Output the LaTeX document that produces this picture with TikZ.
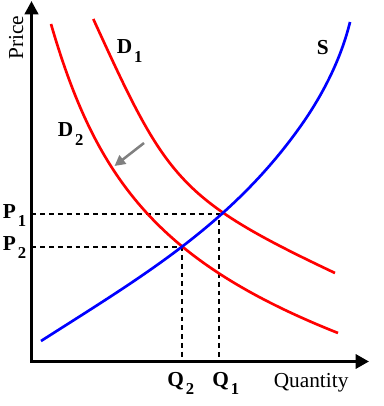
\documentclass[tikz,border=0pt]{standalone}
\usepackage{fontspec}
\setmainfont{Liberation Serif}
\usetikzlibrary{arrows.meta}
\definecolor{supblue}{RGB}{0,0,255}
\definecolor{demred}{RGB}{255,0,0}
\definecolor{shiftgray}{RGB}{128,128,128}
\tikzset{
  axisline/.style={line width=2.4pt, line join=miter, {Triangle[length=10pt,width=10pt]}-{Triangle[length=10pt,width=10.5pt]}},
  demand/.style={demred, line width=2pt},
  supply/.style={supblue, line width=2pt},
  guide/.style={black, line width=1.25pt, dash pattern=on 3.6pt off 3pt},
  lbl/.style={inner sep=0pt, anchor=base west, font=\fontsize{16}{16}\selectfont\bfseries},
  axlbl/.style={inner sep=0pt, font=\fontsize{16}{16}\selectfont},
  shiftarrow/.style={shiftgray, line width=1.9pt, -{Triangle[length=8pt,width=8pt]}}
}
\newcommand{\subdig}[1]{\hspace{1.5pt}\raisebox{-6.5pt}{\fontsize{12.5}{12.5}\selectfont #1}}
\begin{document}
\begin{tikzpicture}[x=0.75pt,y=-0.75pt]
\useasboundingbox (0,0) rectangle (383,406);
% axes
\coordinate (ytip) at (31.5,1);
\coordinate (orig) at (31.5,361.5);
\coordinate (xtip) at (369,361.5);
\draw[axisline] (ytip) -- (orig) -- (xtip);
% intersection points
\coordinate (E1) at (219,214);
\coordinate (E2) at (182,247);
\coordinate (P1a) at (31.5,214);
\coordinate (P2a) at (31.5,247);
\coordinate (Q1a) at (219,361.5);
\coordinate (Q2a) at (182,361.5);
% guides
\draw[guide] (P1a) -- (E1) -- (Q1a);
\draw[guide] (P2a) -- (E2) -- (Q2a);
% demand curves
\coordinate (d2s) at (51,24);
\coordinate (d2e) at (338,333);
\draw[demand] (d2s) .. controls (95.6,177.6) and (156.7,261) .. (d2e);
\coordinate (d1s) at (93.3,19);
\coordinate (d1e) at (335,273);
\draw[demand] (d1s) .. controls (166.1,178.1) and (176.8,198.3) .. (d1e);
% supply curve
\coordinate (ss) at (41,341);
\coordinate (sm) at (300,127);
\coordinate (se) at (350,22);
\draw[supply] (ss) .. controls (142.2,276.4) and (230.4,224.7) .. (sm)
  .. controls (322.6,95.3) and (341,59) .. (se);
% shift arrow
\coordinate (sa) at (144,143);
\coordinate (sb) at (114.5,166);
\draw[shiftarrow] (sa) -- (sb);
% labels
\node[lbl] (d1) at (116.5,54) {D\subdig{1}};
\node[lbl] (d2) at (57.5,137) {D\subdig{2}};
\node[lbl] (s) at (316.5,55) {S};
\node[lbl] (p1) at (2.5,218) {P\subdig{1}};
\node[lbl] (p2) at (2.5,250) {P\subdig{2}};
\node[lbl] (q2) at (167,386) {Q\subdig{2}};
\node[lbl] (q1) at (212,386) {Q\subdig{1}};
\node[axlbl, anchor=base west] (qty) at (273.5,387) {Quantity};
\node[axlbl, anchor=base west, rotate=90] (price) at (23,60) {Price};
\end{tikzpicture}
\end{document}
